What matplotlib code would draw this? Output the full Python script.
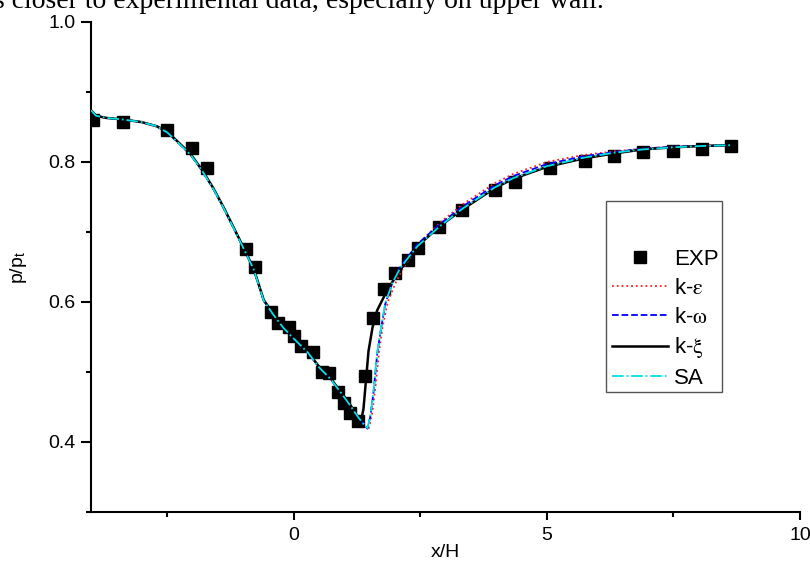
import matplotlib
matplotlib.use("Agg")
import matplotlib.pyplot as plt
from matplotlib.patches import Rectangle

plt.rcParams['font.family'] = ['Liberation Sans', 'DejaVu Sans']
plt.rcParams['mathtext.fontset'] = 'stix'

# experimental data
exp_x = [-3.97, -3.37, -2.49, -2.01, -1.70, -0.93, -0.77, -0.45, -0.30, -0.10, 0.0,
         0.14, 0.39, 0.57, 0.69, 0.87, 0.99, 1.12, 1.27, 1.42, 1.56, 1.78, 2.01,
         2.25, 2.45, 2.88, 3.33, 3.98, 4.38, 5.07, 5.76, 6.33, 6.90, 7.50, 8.07, 8.64]
exp_y = [0.860, 0.857, 0.846, 0.820, 0.791, 0.676, 0.650, 0.586, 0.570, 0.564, 0.551,
         0.537, 0.529, 0.500, 0.499, 0.471, 0.456, 0.441, 0.430, 0.494, 0.577, 0.619, 0.641,
         0.660, 0.677, 0.707, 0.731, 0.760, 0.772, 0.791, 0.801, 0.808, 0.814, 0.816, 0.818, 0.823]

# k-xi (black solid)
kxi_x = [-4.0, -3.9, -3.7, -3.4, -3.0, -2.7, -2.49, -2.3, -2.03, -1.8, -1.58, -1.38,
         -1.18, -0.99, -0.79, -0.59, -0.4, -0.2, 0.0, 0.28, 0.5, 0.73, 0.95, 1.12,
         1.28, 1.33, 1.38, 1.42, 1.48, 1.56, 1.65, 1.85, 2.05, 2.25, 2.45, 2.9, 3.35,
         3.98, 4.34, 5.0, 5.72, 6.31, 6.9, 7.5, 8.1, 8.64]
kxi_y = [0.874, 0.866, 0.863, 0.861, 0.857, 0.851, 0.843, 0.830, 0.811, 0.788, 0.762, 0.735,
         0.706, 0.678, 0.648, 0.603, 0.583, 0.564, 0.549, 0.529, 0.508, 0.491, 0.470, 0.453,
         0.434, 0.430, 0.447, 0.480, 0.530, 0.564, 0.588, 0.617, 0.640, 0.660, 0.680, 0.709, 0.733,
         0.763, 0.776, 0.793, 0.805, 0.812, 0.818, 0.821, 0.823, 0.824]

# SA (cyan dash-dot)
sa_x = [-4.0, -3.9, -3.7, -3.4, -3.0, -2.7, -2.49, -2.3, -2.03, -1.8, -1.58, -1.38,
        -1.18, -0.99, -0.79, -0.59, -0.4, -0.2, 0.0, 0.28, 0.5, 0.73, 0.95, 1.12,
        1.28, 1.40, 1.46, 1.52, 1.58, 1.65, 1.72, 1.81, 1.95, 2.11, 2.25, 2.45, 2.9, 3.35,
        3.98, 4.34, 5.0, 5.72, 6.31, 6.9, 7.5, 8.1, 8.64]
sa_y = [0.874, 0.866, 0.863, 0.861, 0.857, 0.851, 0.842, 0.829, 0.810, 0.787, 0.761, 0.734,
        0.705, 0.677, 0.647, 0.602, 0.582, 0.563, 0.548, 0.528, 0.507, 0.490, 0.469, 0.452,
        0.435, 0.424, 0.420, 0.440, 0.474, 0.527, 0.560, 0.598, 0.627, 0.649, 0.662, 0.680, 0.709, 0.734,
        0.764, 0.777, 0.794, 0.806, 0.813, 0.818, 0.821, 0.823, 0.824]

# k-omega (blue dashed)
kw_x = sa_x
kw_y = [0.874, 0.866, 0.863, 0.861, 0.857, 0.851, 0.842, 0.829, 0.810, 0.787, 0.761, 0.734,
        0.705, 0.677, 0.647, 0.602, 0.582, 0.563, 0.548, 0.528, 0.507, 0.490, 0.469, 0.452,
        0.435, 0.424, 0.419, 0.438, 0.472, 0.525, 0.559, 0.597, 0.627, 0.650, 0.664, 0.683, 0.712, 0.737,
        0.767, 0.780, 0.797, 0.808, 0.814, 0.819, 0.822, 0.823, 0.824]

# k-epsilon (red dotted)
ke_x = [-4.0, -3.9, -3.7, -3.4, -3.0, -2.7, -2.49, -2.3, -2.03, -1.8, -1.58, -1.38,
        -1.18, -0.99, -0.79, -0.59, -0.4, -0.2, 0.0, 0.28, 0.5, 0.73, 0.95, 1.12,
        1.28, 1.40, 1.48, 1.55, 1.62, 1.69, 1.76, 1.86, 2.0, 2.15, 2.3, 2.45, 2.9, 3.35,
        3.98, 4.34, 5.0, 5.72, 6.31, 6.9, 7.5, 8.1, 8.64]
ke_y = [0.874, 0.866, 0.863, 0.861, 0.857, 0.851, 0.842, 0.829, 0.810, 0.787, 0.761, 0.734,
        0.705, 0.677, 0.647, 0.602, 0.582, 0.563, 0.548, 0.528, 0.507, 0.490, 0.469, 0.452,
        0.436, 0.425, 0.418, 0.440, 0.480, 0.530, 0.565, 0.600, 0.625, 0.647, 0.663, 0.682, 0.714, 0.740,
        0.770, 0.783, 0.800, 0.810, 0.815, 0.819, 0.822, 0.823, 0.824]

fig = plt.figure(figsize=(8.10, 5.61), dpi=100)
ax = fig.add_axes([91/810, 49/561, 709/810, 490/561])

ax.plot(exp_x, exp_y, 's', color='black', ms=8, label='EXP', zorder=2)
ax.plot(ke_x, ke_y, ':', color='#ff2020', lw=1.3, label=r'k-$\mathrm{\varepsilon}$', zorder=3)
ax.plot(kw_x, kw_y, '--', color='#0000ff', lw=1.3, label=r'k-$\mathrm{\omega}$', zorder=3)
ax.plot(kxi_x, kxi_y, '-', color='black', lw=1.8, label=r'k-$\mathrm{\xi}$', zorder=4)
ax.plot(sa_x, sa_y, '-.', color='#00e0e8', lw=1.3, label='SA', zorder=5)

ax.set_xlim(-4, 10)
ax.set_ylim(0.3, 1.0)
ax.set_xticks([0, 5, 10])
ax.set_xticks([-2.5, 2.5, 7.5], minor=True)
ax.set_yticks([0.4, 0.6, 0.8, 1.0])
ax.set_yticklabels(['0.4', '0.6', '0.8', '1.0'])
ax.set_yticks([0.3, 0.5, 0.7, 0.9], minor=True)

for s in ['top', 'right']:
    ax.spines[s].set_visible(False)
for s in ['left', 'bottom']:
    ax.spines[s].set_linewidth(1.5)

ax.tick_params(axis='both', which='major', labelsize=14, width=1.5, direction='out')
ax.tick_params(axis='y', which='major', length=7, pad=4)
ax.tick_params(axis='x', which='major', length=6, pad=5)
ax.tick_params(axis='both', which='minor', length=3.6, width=1.5, direction='out')

ax.set_xlabel('x/H', fontsize=14, labelpad=0)
ax.set_ylabel(r'p/p$_\mathregular{t}$', fontsize=14, labelpad=14)

# legend box drawn separately (extra empty space at its top)
box = Rectangle((606/810, 1 - 392/561), 116/810, 191/561, transform=fig.transFigure,
                facecolor='white', edgecolor='#555555', linewidth=1.0, zorder=6, clip_on=False)
ax.add_patch(box)
leg = ax.legend(loc='upper left', bbox_to_anchor=(612/810, 1 - 249/561),
                bbox_transform=fig.transFigure, fontsize=16, frameon=False,
                handlelength=2.5, handletextpad=0.3, labelspacing=0.35,
                borderpad=0, borderaxespad=0)
leg.set_zorder(7)

fig.text(-0.008, 1 - 8/561, 's closer to experimental data, especially on upper wall.',
         family='Liberation Serif', fontsize=20, va='baseline', ha='left')

fig.savefig('out.png', dpi=100)
